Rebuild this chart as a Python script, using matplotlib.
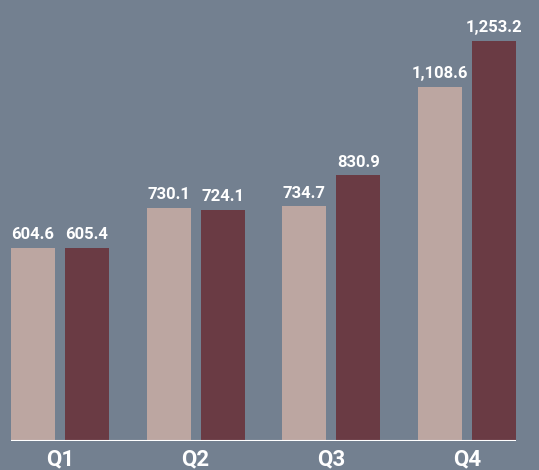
import matplotlib
matplotlib.use("Agg")
import matplotlib.pyplot as plt
import numpy as np

quarters = ["Q1", "Q2", "Q3", "Q4"]
series_a = [604.6, 730.1, 734.7, 1108.6]
series_b = [605.4, 724.1, 830.9, 1253.2]

bg = "#738090"
color_a = "#BCA6A1"
color_b = "#6A3B44"

plt.rcParams["font.family"] = ["Roboto", "DejaVu Sans"]

fig = plt.figure(figsize=(5.39, 4.70), dpi=100, facecolor=bg)
ax = fig.add_axes([0, 1 - 441 / 470, 1, 441 / 470])
ax.set_facecolor(bg)

x = np.arange(len(quarters))
width = 0.324
offset = 0.199

bars_a = ax.bar(x - offset, series_a, width, color=color_a)
bars_b = ax.bar(x + offset, series_b, width, color=color_b)

for bars, vals in ((bars_a, series_a), (bars_b, series_b)):
    for b, v in zip(bars, vals):
        ax.annotate(f"{v:,.1f}", (b.get_x() + b.get_width() / 2, v),
                    xytext=(0, 4), textcoords="offset points",
                    ha="center", va="bottom", color="white",
                    fontsize=12, fontweight="bold")

left = x[0] - offset - width / 2
right = x[-1] + offset + width / 2
ax.hlines(0, left, right, color="white", linewidth=1.5, zorder=3)

ax.set_xlim(-0.442, 3.532)
ax.set_ylim(0, 1380)
for s in ax.spines.values():
    s.set_visible(False)
ax.set_yticks([])
ax.set_xticks(x)
ax.set_xticklabels(quarters, color="white", fontsize=16, fontweight="bold")
ax.tick_params(axis="x", length=0, pad=5)

fig.savefig("out.png", dpi=100, facecolor=bg)
